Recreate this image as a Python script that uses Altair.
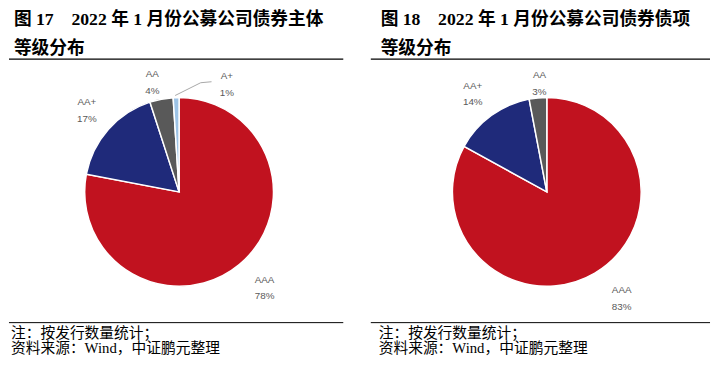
import altair as alt
import pandas as pd

# ---- data ----
ratings_left = ["AAA", "AA+", "AA", "A+"]
values_left = [78, 17, 4, 1]
ratings_right = ["AAA", "AA+", "AA"]
values_right = [83, 14, 3]

title_left = ["图 17\u30002022 年 1 月份公募公司债券主体", "等级分布"]
title_right = ["图 18\u30002022 年 1 月份公募公司债券债项", "等级分布"]
notes = ["注：按发行数量统计；", "资料来源：Wind，中证鹏元整理"]

color_domain = ["AAA", "AA+", "AA", "A+"]
color_range = ["#C1121F", "#1F2A7A", "#595959", "#9DC3E6"]

TITLE_FONT = "'Liberation Serif', 'Noto Sans CJK SC'"
NOTE_FONT = "'Liberation Serif', 'Noto Sans CJK SC'"
LABEL_FONT = "'Liberation Sans', Arial"


def one_row(txt=""):
    return alt.Chart(pd.DataFrame({"t": [txt]}))


def panel(ratings, values, titles, width, cx, cy, title_x, note_x, label_style, leader=None):
    df = pd.DataFrame({"rating": ratings, "value": values, "idx": list(range(len(ratings)))})
    base = alt.Chart(df).transform_window(
        cum="sum(value)", sort=[alt.SortField("idx")], frame=[None, 0]
    ).transform_calculate(
        start="datum.cum - datum.value",
        mid="datum.cum - datum.value / 2",
        label="datum.rating + '\\n' + datum.value + '%'",
    )
    theta_scale = alt.Scale(domain=[0, 100])

    arcs = base.mark_arc(outerRadius=96, stroke="white", strokeWidth=1.5).encode(
        theta=alt.Theta("start:Q", scale=theta_scale),
        theta2="cum:Q",
        color=alt.Color("rating:N", scale=alt.Scale(domain=color_domain, range=color_range), legend=None),
        x=alt.value(cx),
        y=alt.value(cy),
    )

    layers = [arcs]
    for rating, (radius, dx) in label_style.items():
        layers.append(
            base.transform_filter(f"datum.rating == '{rating}'").mark_text(
                lineBreak="\n", fontSize=10, lineHeight=17, font=LABEL_FONT, color="#595959",
                align="center", baseline="middle", dx=dx, dy=-8.5,
            ).encode(
                theta=alt.Theta("mid:Q", scale=theta_scale),
                radius=alt.value(radius),
                text="label:N",
                x=alt.value(cx),
                y=alt.value(cy),
            )
        )

    if leader:
        for (xa, ya), (xb, yb) in zip(leader[:-1], leader[1:]):
            layers.append(one_row().mark_rule(color="#A6A6A6", strokeWidth=1).encode(
                x=alt.value(xa), y=alt.value(ya), x2=alt.value(xb), y2=alt.value(yb)))

    tstyle = dict(font=TITLE_FONT, fontSize=18, fontWeight="bold", align="left",
                  baseline="alphabetic", color="black")
    t1 = one_row(titles[0]).mark_text(**tstyle).encode(x=alt.value(title_x), y=alt.value(14), text="t:N")
    t2 = one_row(titles[1]).mark_text(**tstyle).encode(x=alt.value(title_x), y=alt.value(44), text="t:N")
    top_rule = one_row().mark_rule(color="black", strokeWidth=1.5).encode(
        x=alt.value(0), x2=alt.value(width), y=alt.value(49))
    bot_rule = one_row().mark_rule(color="black", strokeWidth=1).encode(
        x=alt.value(0), x2=alt.value(width), y=alt.value(317))
    nstyle = dict(font=NOTE_FONT, fontSize=15, align="left", baseline="alphabetic", color="black")
    n1 = one_row(notes[0]).mark_text(**nstyle).encode(x=alt.value(note_x), y=alt.value(333), text="t:N")
    n2 = one_row(notes[1]).mark_text(**nstyle).encode(x=alt.value(note_x), y=alt.value(348), text="t:N")

    layers += [t1, t2, top_rule, bot_rule, n1, n2]
    return alt.layer(*layers).properties(width=width, height=352)


left = panel(
    ratings_left, values_left, title_left, 340, 173, 184, 5, 2,
    label_style={"AAA": (127, 6), "AA+": (125, 0), "AA": (113, -6), "A+": (109, 52)},
    leader=[(169, 86), (195, 73), (206, 72)],
)
right = panel(
    ratings_right, values_right, title_right, 345, 179, 184, 10, 8,
    label_style={"AAA": (126, 12), "AA+": (123, -3), "AA": (111, 3)},
)

chart = alt.hconcat(left, right, spacing=28, bounds="flush").properties(
    padding=0, background="white"
).configure_view(stroke=None)

chart.save("out.html", embed_options={"renderer": "svg", "actions": False})
